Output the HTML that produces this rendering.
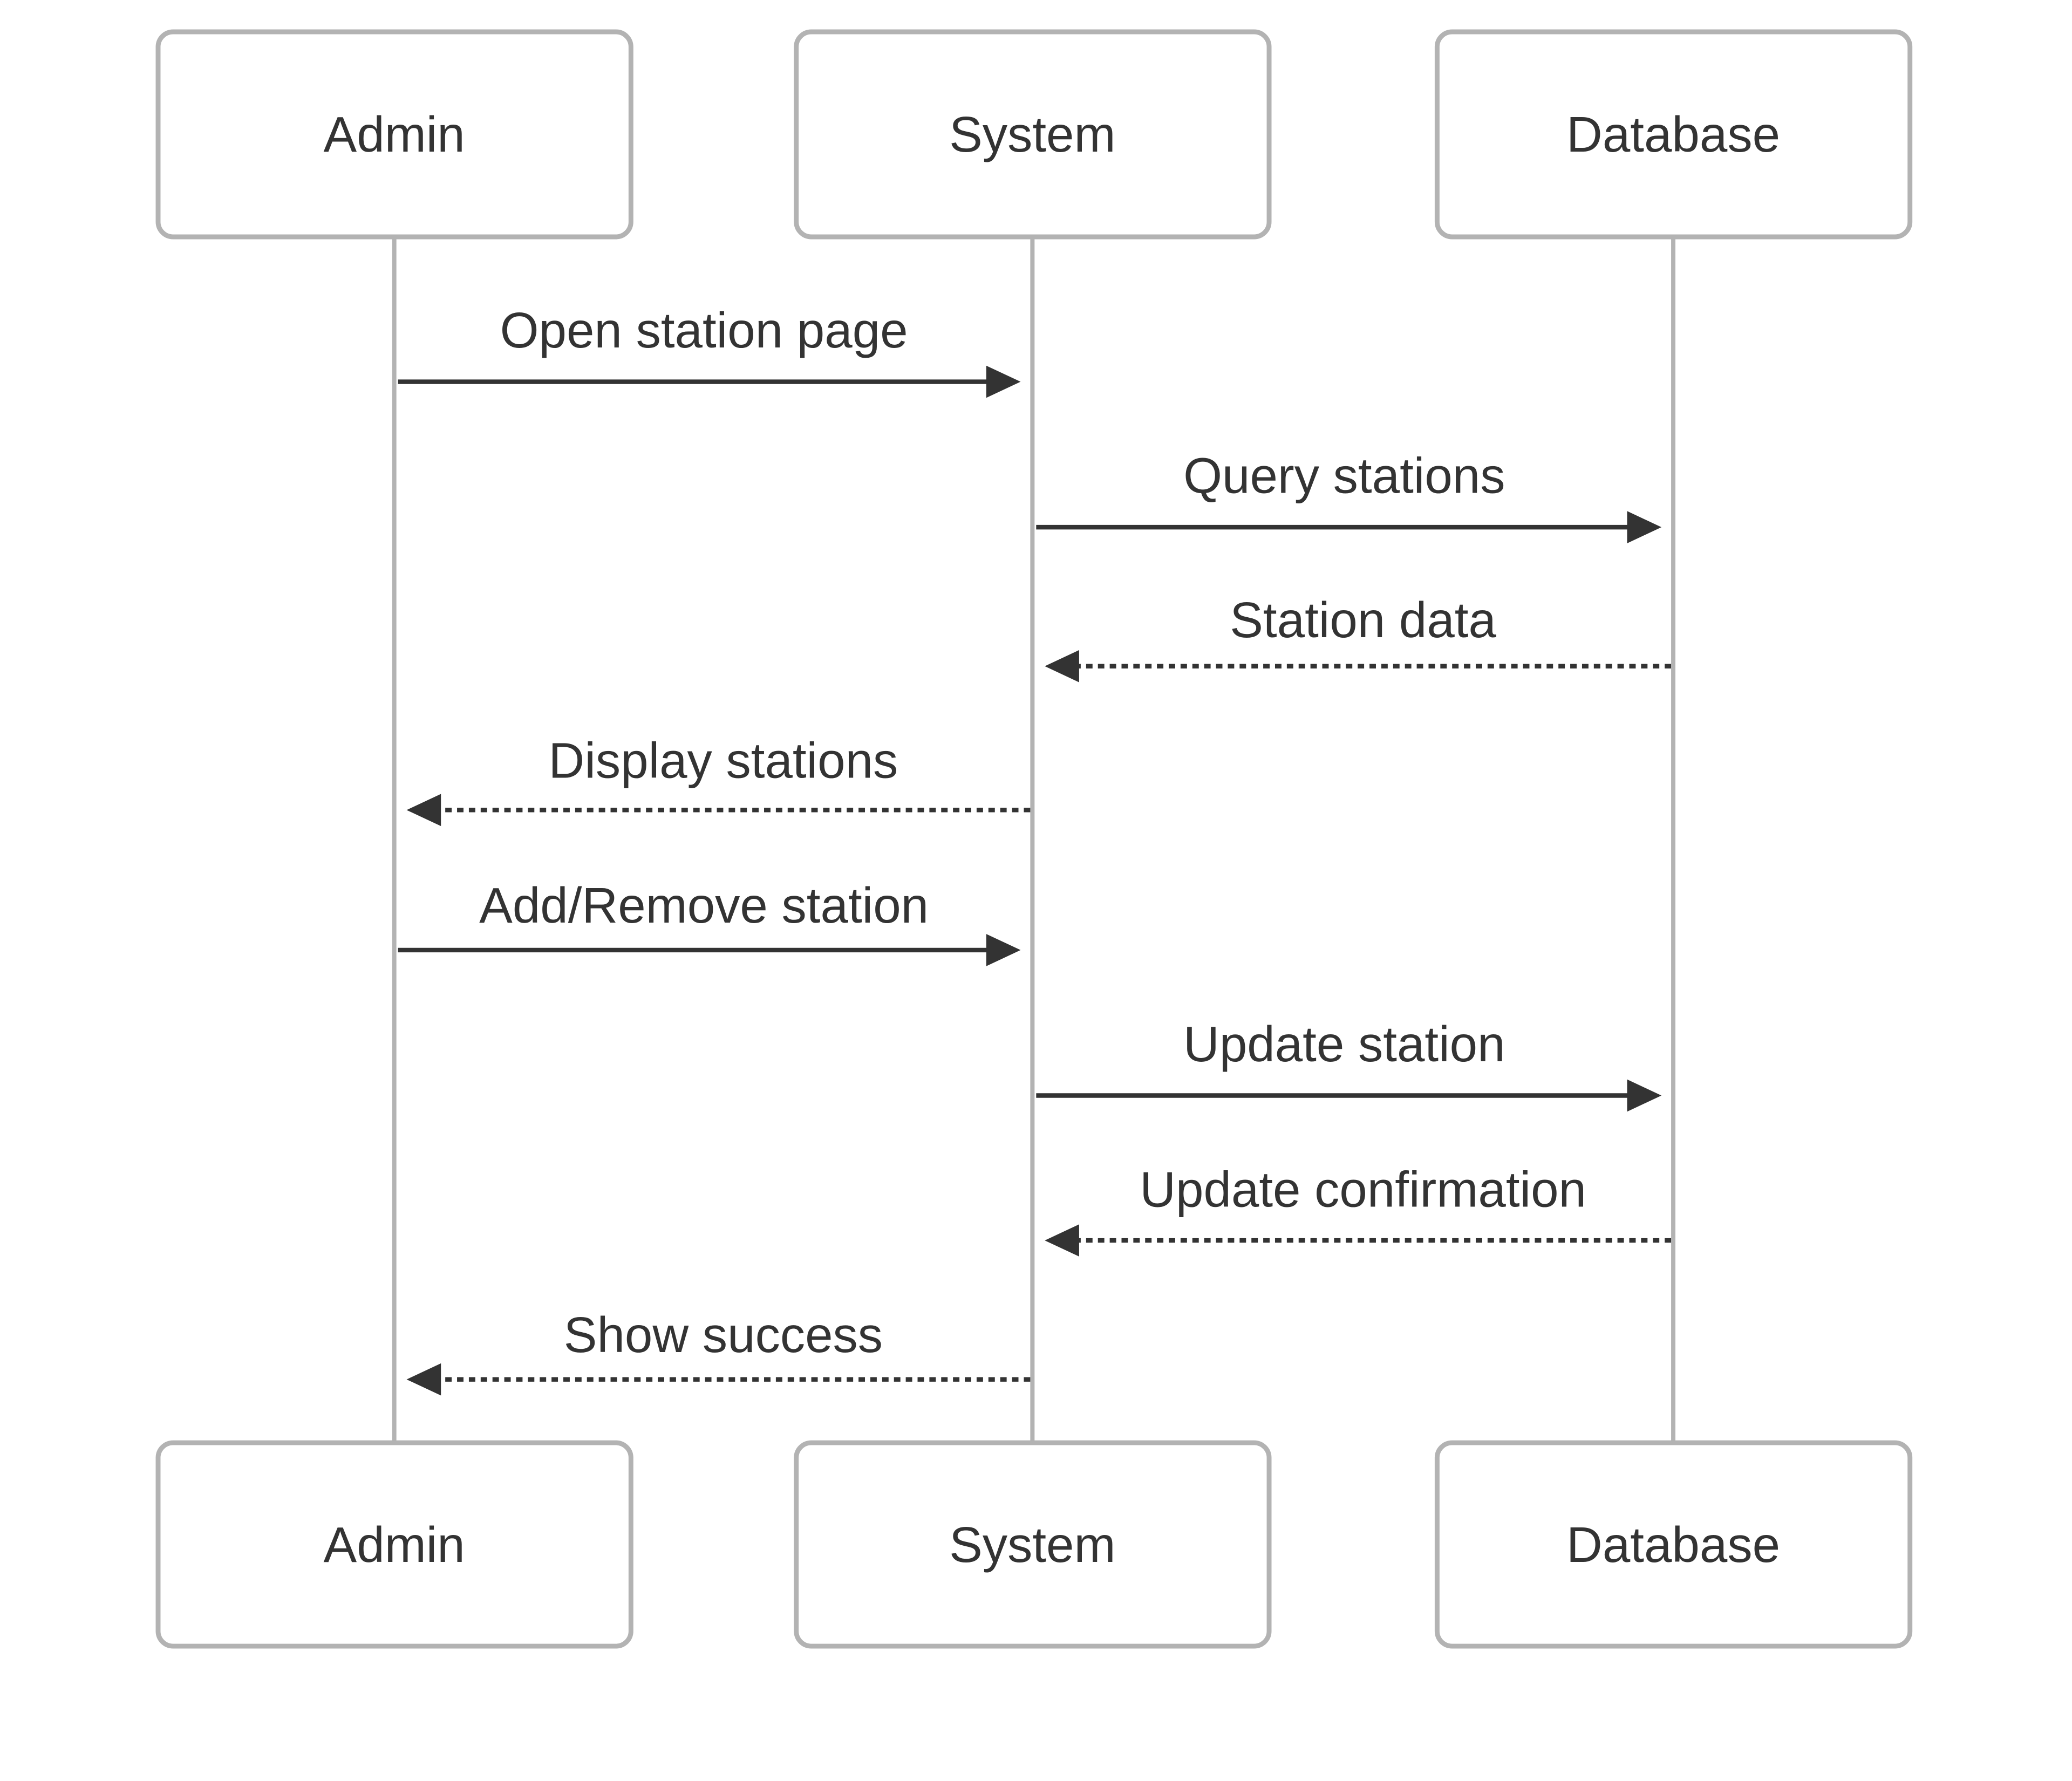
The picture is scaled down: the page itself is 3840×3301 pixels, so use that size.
<!DOCTYPE html>
<html><head><meta charset="utf-8"><style>html,body{margin:0;padding:0;background:#fff}svg{display:block}</style></head>
<body>
<svg width="3840" height="3301" viewBox="0 0 3840 3301" xmlns="http://www.w3.org/2000/svg">
<g transform="translate(293,59) scale(0.9947) translate(-293,-59)">
<g stroke="#b3b3b3" stroke-width="8">
<line x1="733" y1="441" x2="733" y2="2688"/>
<line x1="1922" y1="441" x2="1922" y2="2688"/>
<line x1="3116" y1="441" x2="3116" y2="2688"/>
</g>
<g fill="#fff" stroke="#b3b3b3" stroke-width="9">
<rect x="293" y="59" width="881" height="382" rx="28"/>
<rect x="1482" y="59" width="881" height="382" rx="28"/>
<rect x="2676" y="59" width="881" height="382" rx="28"/>
<rect x="293" y="2688" width="881" height="379" rx="28"/>
<rect x="1482" y="2688" width="881" height="379" rx="28"/>
<rect x="2676" y="2688" width="881" height="379" rx="28"/>
</g>
<g font-family="Liberation Sans, sans-serif" font-size="93" fill="#333" text-anchor="middle">
<text x="733" y="282">Admin</text>
<text x="1922" y="282">System</text>
<text x="3116" y="282">Database</text>
<text x="733" y="2910">Admin</text>
<text x="1922" y="2910">System</text>
<text x="3116" y="2910">Database</text>
<text x="1310" y="647">Open station page</text>
<text x="2503" y="918">Query stations</text>
<text x="2538" y="1187">Station data</text>
<text x="1346" y="1449">Display stations</text>
<text x="1310" y="1719">Add/Remove station</text>
<text x="2503" y="1977">Update station</text>
<text x="2538" y="2248">Update confirmation</text>
<text x="1346" y="2519">Show success</text>
</g>
<g stroke="#333" stroke-width="8.5">
<line x1="740" y1="711" x2="1845" y2="711"/>
<line x1="1929" y1="982" x2="3040" y2="982"/>
<line x1="3112" y1="1241" x2="2000" y2="1241" stroke-dasharray="12,10"/>
<line x1="1918" y1="1509" x2="810" y2="1509" stroke-dasharray="12,10"/>
<line x1="740" y1="1770" x2="1845" y2="1770"/>
<line x1="1929" y1="2041" x2="3040" y2="2041"/>
<line x1="3112" y1="2311" x2="2000" y2="2311" stroke-dasharray="12,10"/>
<line x1="1918" y1="2570" x2="810" y2="2570" stroke-dasharray="12,10"/>
</g>
<g fill="#333">
<polygon points="1900,711 1836,681 1836,741"/>
<polygon points="3094,982 3030,952 3030,1012"/>
<polygon points="1945,1241 2009,1211 2009,1271"/>
<polygon points="756,1509 820,1479 820,1539"/>
<polygon points="1900,1770 1836,1740 1836,1800"/>
<polygon points="3094,2041 3030,2011 3030,2071"/>
<polygon points="1945,2311 2009,2281 2009,2341"/>
<polygon points="756,2570 820,2540 820,2600"/>
</g>
</g>
</svg>
</body></html>
